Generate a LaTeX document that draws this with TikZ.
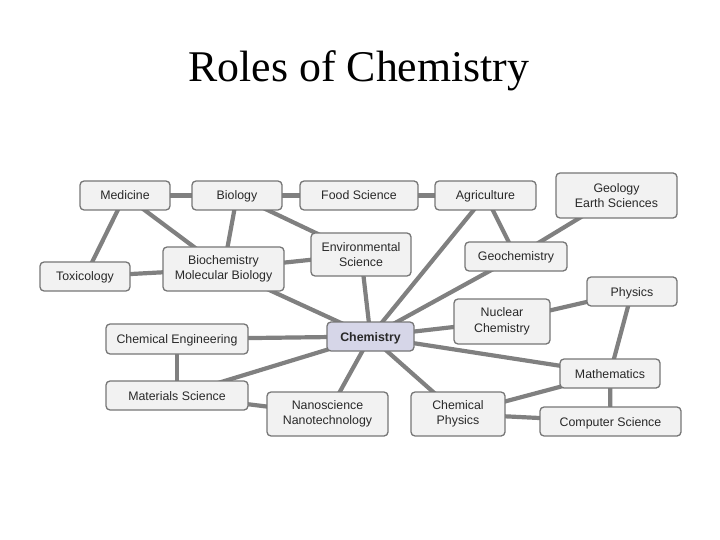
\documentclass[tikz,border=0pt]{standalone}
\usepackage{fontspec}
\setmainfont{Liberation Serif}
\setsansfont{Liberation Sans}
\usetikzlibrary{backgrounds}
\definecolor{boxfill}{RGB}{242,242,242}
\definecolor{boxline}{RGB}{118,118,118}
\definecolor{linkcol}{RGB}{128,128,128}
\definecolor{chemfill}{RGB}{214,214,232}
\definecolor{boxtext}{RGB}{40,40,40}
\tikzset{
  topic/.style={draw=boxline, line width=1.3bp, rounded corners=4bp, fill=boxfill,
    text=boxtext, align=center, inner sep=0pt,
    font=\sffamily\fontsize{12.4}{15.5}\selectfont},
  one/.style={text height=9bp, text depth=0bp},
  link/.style={draw=linkcol, line width=4.2bp},
  sz/.style n args={2}{minimum width=#1bp, minimum height=#2bp}
}
\begin{document}
\begin{tikzpicture}[x=1bp,y=-1bp]
\useasboundingbox (0,0) rectangle (720,540);
\node (title) at (359,71) {\fontsize{44}{50}\selectfont Roles of Chemistry};

\node[topic, one, sz={90}{29}] (med) at (125,195.5) {Medicine};
\node[topic, one, sz={90}{29}] (bio) at (237,195.5) {Biology};
\node[topic, one, sz={118}{29}] (food) at (359,195.5) {Food Science};
\node[topic, one, sz={101}{29}] (agri) at (485.5,195.5) {Agriculture};
\node[topic, sz={121}{45}] (geo) at (616.5,195.5) {Geology\\Earth Sciences};
\node[topic, one, sz={90}{29}] (tox) at (85,276.5) {Toxicology};
\node[topic, sz={121}{44}] (biochem) at (223.5,269) {Biochemistry\\Molecular Biology};
\node[topic, sz={100}{43}] (env) at (361,254.5) {Environmental\\Science};
\node[topic, one, sz={102}{29}] (geochem) at (516,256.5) {Geochemistry};
\node[topic, one, sz={90}{29}] (phys) at (632,291.5) {Physics};
\node[topic, sz={96}{45}] (nuc) at (502,321.5) {Nuclear\\Chemistry};
\node[topic, one, sz={87}{29}, fill=chemfill, font=\sffamily\bfseries\fontsize{12.4}{15.5}\selectfont] (chem) at (370.5,336.5) {Chemistry};
\node[topic, one, sz={142}{30}] (cheng) at (177,339) {Chemical Engineering};
\node[topic, one, sz={142}{29}] (mat) at (177,395.5) {Materials Science};
\node[topic, sz={121}{44}] (nano) at (327.5,414) {Nanoscience\\Nanotechnology};
\node[topic, sz={94}{44}] (chphys) at (458,414) {Chemical\\Physics};
\node[topic, one, sz={100}{29}] (math) at (610,373.5) {Mathematics};
\node[topic, one, sz={141}{29}] (cs) at (610.5,421.5) {Computer Science};

\begin{scope}[on background layer]
\draw[link] (med.center) -- (bio.center);
\draw[link] (bio.center) -- (food.center);
\draw[link] (food.center) -- (agri.center);
\draw[link] (med.center) -- (tox.center);
\draw[link] (med.center) -- (biochem.center);
\draw[link] (bio.center) -- (biochem.center);
\draw[link] (bio.center) -- (env.center);
\draw[link] (tox.center) -- (biochem.center);
\draw[link] (biochem.center) -- (env.center);
\draw[link] (biochem.center) -- (chem.center);
\draw[link] (env.center) -- (chem.center);
\draw[link] (agri.center) -- (chem.center);
\draw[link] (agri.center) -- (geochem.center);
\draw[link] (geo.center) -- (geochem.center);
\draw[link] (geochem.center) -- (chem.center);
\draw[link] (chem.center) -- (nuc.center);
\draw[link] (nuc.center) -- (phys.center);
\draw[link] (phys.center) -- (math.center);
\draw[link] (chem.center) -- (math.center);
\draw[link] (chem.center) -- (chphys.center);
\draw[link] (chphys.center) -- (math.center);
\draw[link] (chphys.center) -- (cs.center);
\draw[link] (math.center) -- (cs.center);
\draw[link] (chem.center) -- (cheng.center);
\draw[link] (chem.center) -- (mat.center);
\draw[link] (cheng.center) -- (mat.center);
\draw[link] (mat.center) -- (nano.center);
\draw[link] (chem.center) -- (nano.center);
\end{scope}
\end{tikzpicture}
\end{document}
